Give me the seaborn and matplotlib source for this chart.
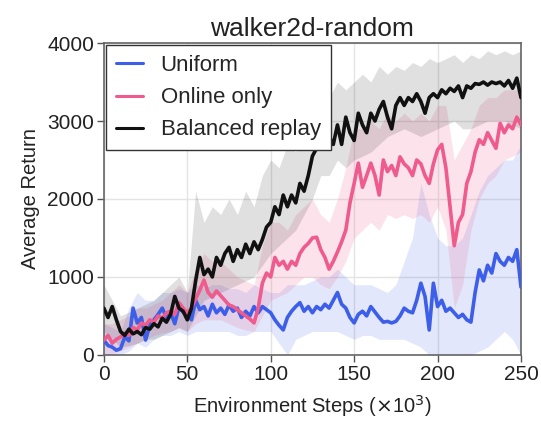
import matplotlib
matplotlib.use("Agg")
import matplotlib.pyplot as plt
import numpy as np
import pandas as pd
import seaborn as sns

# ---- mean curves: one value every 2.5k environment steps (0 .. 250k) ----
steps = np.arange(0, 250.1, 2.5)

balanced_mean = [
    600, 480, 620, 450, 300, 250, 330, 270, 300, 260,
    350, 330, 400, 360, 470, 420, 520, 750, 600, 560,
    450, 600, 950, 1250, 1030, 1100, 1000, 1250, 1150, 1300,
    1380, 1200, 1350, 1250, 1420, 1300, 1450, 1350, 1480, 1640,
    1700, 1900, 1800, 2050, 1900, 2050, 1950, 2200, 2100, 2300,
    2550, 2650, 2750, 2950, 2800, 2700, 2950, 2700, 3050, 2850,
    2750, 3100, 2950, 2850, 3100, 3000, 3150, 3250, 3050, 2900,
    3200, 3300, 3200, 3300, 3250, 3350, 3250, 3100, 3300, 3350,
    3300, 3400, 3350, 3420, 3380, 3450, 3300, 3450, 3420, 3480,
    3470, 3500, 3460, 3500, 3480, 3500, 3450, 3520, 3420, 3550,
    3300]

online_mean = [
    190, 250, 150, 200, 230, 280, 250, 350, 320, 410,
    380, 450, 420, 500, 470, 540, 560, 520, 670, 600,
    540, 600, 720, 830, 960, 800, 740, 820, 760, 700,
    640, 620, 580, 540, 500, 460, 410, 600, 920, 1050,
    1000, 1250, 1150, 1200, 1100, 1200, 1150, 1300, 1380, 1430,
    1500, 1510, 1350, 1250, 1100, 1200, 1320, 1450, 1600, 1950,
    2200, 2460, 2150, 2300, 2460, 2300, 2050, 2500, 2350, 2430,
    2300, 2540, 2450, 2400, 2300, 2500, 2450, 2300, 2200, 2450,
    2630, 2700, 2400, 1900, 1400, 1700, 1800, 2200, 2350, 2600,
    2760, 2700, 2850, 2750, 2650, 2970, 2850, 2950, 2900, 3050,
    2950]

uniform_mean = [
    190, 120, 100, 60, 80, 230, 180, 600, 410, 480,
    190, 380, 450, 520, 600, 480, 540, 400, 620, 550,
    540, 450, 700, 580, 620, 500, 650, 540, 600, 520,
    640, 560, 600, 480, 560, 500, 620, 540, 620, 580,
    540, 450, 380, 320, 480, 560, 620, 670, 560, 620,
    540, 620, 580, 650, 600, 700, 800, 650, 600, 480,
    410, 520, 560, 500, 620, 550, 480, 420, 430, 410,
    430, 500, 600, 560, 540, 700, 920, 750, 320, 920,
    620, 700, 560, 600, 540, 480, 520, 450, 420, 800,
    1090, 950, 1150, 1050, 1300, 1200, 1150, 1250, 1200, 1350,
    870]

# ---- shaded spread: one value every 5k steps ----
band_steps = np.arange(0, 250.1, 5)

balanced_low = [
    300, 200, 100, 120, 150, 200, 200, 250, 300, 350,
    300, 500, 700, 750, 800, 850, 900, 950, 1000, 1150,
    1300, 1400, 1500, 1600, 1800, 2000, 2300, 2300, 2500, 2400,
    2500, 2550, 2600, 2700, 2800, 2850, 2900, 2850, 2800, 2850,
    2900, 2950, 3000, 2900, 2900, 2950, 3000, 3000, 3000, 2950,
    2900]
balanced_high = [
    900, 700, 500, 550, 600, 650, 700, 800, 900, 1000,
    800, 2100, 1700, 1900, 1800, 2000, 1800, 2100, 1900, 2300,
    2500, 2400, 2700, 2600, 3100, 3200, 3400, 3300, 3500, 3400,
    3500, 3600, 3500, 3700, 3600, 3700, 3650, 3750, 3700, 3800,
    3750, 3800, 3850, 3750, 3850, 3800, 3900, 3850, 3900, 3850,
    3900]
online_low = [
    0, 20, 50, 100, 150, 200, 250, 280, 300, 350,
    300, 400, 450, 450, 450, 400, 350, 320, 300, 500,
    700, 750, 800, 900, 1000, 1000, 900, 850, 1000, 1200,
    1500, 1600, 1700, 1600, 1800, 1750, 1800, 1750, 1800, 1700,
    1900, 1600, 600, 900, 1600, 2000, 2200, 2300, 2500, 2550,
    2600]
online_high = [
    400, 400, 450, 500, 600, 600, 650, 700, 800, 900,
    800, 1100, 1300, 1200, 1200, 1100, 1000, 950, 900, 1400,
    1700, 1700, 1600, 1800, 1900, 2000, 1800, 1700, 2000, 2400,
    2900, 2900, 3000, 2900, 3100, 3000, 3100, 3000, 3100, 3000,
    3200, 3200, 2500, 2700, 2900, 3200, 3300, 3300, 3400, 3400,
    3400]
uniform_low = [
    0, 0, 0, 50, 150, 100, 200, 250, 250, 300,
    250, 300, 300, 300, 300, 300, 250, 250, 300, 300,
    300, 150, 0, 200, 250, 300, 300, 300, 300, 250,
    200, 250, 250, 200, 200, 200, 200, 150, 100, 0,
    0, 0, 0, 0, 0, 50, 100, 200, 300, 200,
    0]
uniform_high = [
    400, 350, 300, 600, 800, 700, 700, 800, 800, 850,
    800, 900, 850, 900, 900, 850, 850, 800, 900, 850,
    800, 800, 900, 900, 900, 950, 1000, 1000, 1100, 1000,
    900, 900, 900, 850, 800, 900, 1200, 1500, 2200, 1800,
    1500, 1400, 1400, 1500, 1800, 2100, 2300, 2400, 2500, 2500,
    2700]

labels = ["Uniform", "Online only", "Balanced replay"]
colors = ["#3d5ee8", "#ef5b8c", "#111111"]
band_alpha = [0.15, 0.17, 0.13]

series = [uniform_mean, online_mean, balanced_mean]
df = pd.concat(
    [pd.DataFrame({"step": steps, "ret": vals, "method": name})
     for name, vals in zip(labels, series)],
    ignore_index=True)

sns.set_theme(style="whitegrid")
plt.rcParams["font.family"] = ["Liberation Sans", "DejaVu Sans"]

fig = plt.figure(figsize=(5.41, 4.22), dpi=100)
ax = fig.add_axes([0.192, 0.159, 0.771, 0.739])

bands = [(uniform_low, uniform_high), (online_low, online_high),
         (balanced_low, balanced_high)]
for (lo, hi), c, a in zip(bands, colors, band_alpha):
    ax.fill_between(band_steps, lo, hi, color=c, alpha=a, linewidth=0, zorder=1)

sns.lineplot(data=df, x="step", y="ret", hue="method", hue_order=labels,
             palette=dict(zip(labels, colors)), linewidth=2.6, ax=ax, zorder=3,
             estimator=None, sort=True)

ax.set_xlim(0, 250)
ax.set_ylim(0, 4000)
ax.set_xticks([0, 50, 100, 150, 200, 250])
ax.set_yticks([0, 1000, 2000, 3000, 4000])
ax.set_title("walker2d-random", fontsize=19, pad=5, color="#222222")
ax.set_xlabel(r"Environment Steps ($\times$10$^3$)", fontsize=14.5, labelpad=7,
              color="#222222")
ax.set_ylabel("Average Return", fontsize=14.5, labelpad=5, color="#222222")
ax.tick_params(axis="both", labelsize=15, length=5, width=1, color="#555555",
               direction="out", pad=2, labelcolor="#222222")
ax.tick_params(axis="x", bottom=True)
ax.tick_params(axis="y", left=True)
ax.grid(True, color="#e4e4e4", linewidth=1)
for s in ax.spines.values():
    s.set_color("#666666")
    s.set_linewidth(1.2)

leg = ax.legend(loc="upper left", fontsize=16, frameon=True, fancybox=False,
                handlelength=1.2, borderaxespad=0.1, labelspacing=0.5,
                handletextpad=0.8, borderpad=0.45)
leg.get_frame().set_edgecolor("#333333")
leg.get_frame().set_linewidth(1.0)
leg.get_frame().set_alpha(1.0)
for line in leg.get_lines():
    line.set_linewidth(2.2)

fig.savefig("out.png", dpi=100)
